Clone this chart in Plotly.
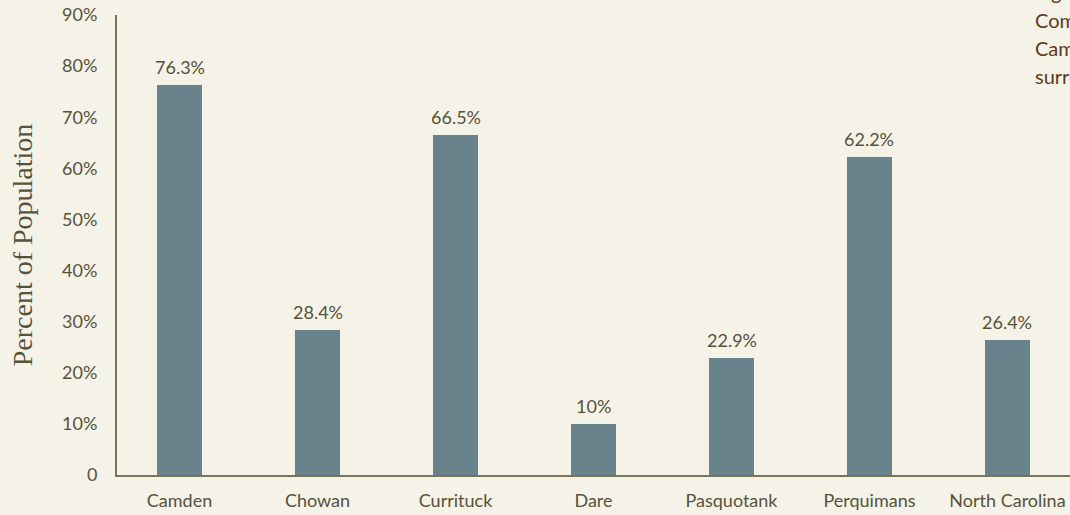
import plotly.graph_objects as go

categories = ["Camden", "Chowan", "Currituck", "Dare", "Pasquotank", "Perquimans", "North Carolina"]
values = [76.3, 28.4, 66.5, 10, 22.9, 62.2, 26.4]
value_labels = ["76.3%", "28.4%", "66.5%", "10%", "22.9%", "62.2%", "26.4%"]
y_tickvals = [0, 10, 20, 30, 40, 50, 60, 70, 80, 90]
y_ticktext = ["0", "10%", "20%", "30%", "40%", "50%", "60%", "70%", "80%", "90%"]
side_text = ["Figure", "Comparison", "Camden and", "surrounding"]

W, H = 1070, 515
ML, MR, MT, MB = 117, 0, 15, 40
BG = "#f5f2e7"
BAR = "#68838b"
AXIS = "#7a7558"
TXT = "#55533b"
SANS = "Lato, 'Open Sans', sans-serif"

fig = go.Figure()
fig.add_trace(go.Bar(
    x=list(range(len(categories))), y=values,
    marker=dict(color=BAR, line=dict(width=0)),
    width=0.326,
))

plot_h = H - MT - MB
annotations = []
for i, (v, lab) in enumerate(zip(values, value_labels)):
    annotations.append(dict(
        text=lab, x=i, y=v, xref="x", yref="y", xanchor="center", yanchor="bottom",
        yshift=5, showarrow=False, font=dict(family=SANS, size=18, color=TXT),
    ))

baselines = [-1, 27, 55, 83]
for t, b in zip(side_text, baselines):
    yc = b - 7
    annotations.append(dict(
        text=t, xref="paper", yref="paper", x=(1033 - ML) / (W - ML - MR),
        y=(H - MB - yc) / plot_h, xanchor="left", yanchor="middle",
        showarrow=False, font=dict(family=SANS, size=20, color="#5b3a22"),
    ))

fig.update_layout(
    width=W, height=H,
    margin=dict(l=ML, r=MR, t=MT, b=MB, pad=0),
    paper_bgcolor=BG, plot_bgcolor=BG,
    showlegend=False,
    bargap=0,
    annotations=annotations,
    xaxis=dict(
        range=[-0.453, 6.453],
        tickmode="array", tickvals=list(range(len(categories))), ticktext=categories,
        showgrid=False, zeroline=False, showline=True, linecolor=AXIS, linewidth=2,
        ticks="outside", ticklen=8, tickcolor="rgba(0,0,0,0)",
        tickfont=dict(family=SANS, size=18, color=TXT),
    ),
    yaxis=dict(
        range=[0, 90],
        tickmode="array", tickvals=y_tickvals, ticktext=y_ticktext,
        showgrid=False, zeroline=False, showline=True, linecolor=AXIS, linewidth=2,
        ticks="outside", ticklen=14, tickcolor="rgba(0,0,0,0)",
        tickfont=dict(family=SANS, size=18, color=TXT),
        title=dict(text="Percent of Population",
                   font=dict(family="'Liberation Serif', 'DejaVu Serif', serif", size=28, color=TXT),
                   standoff=21),
    ),
)

fig.write_html("out.html")
